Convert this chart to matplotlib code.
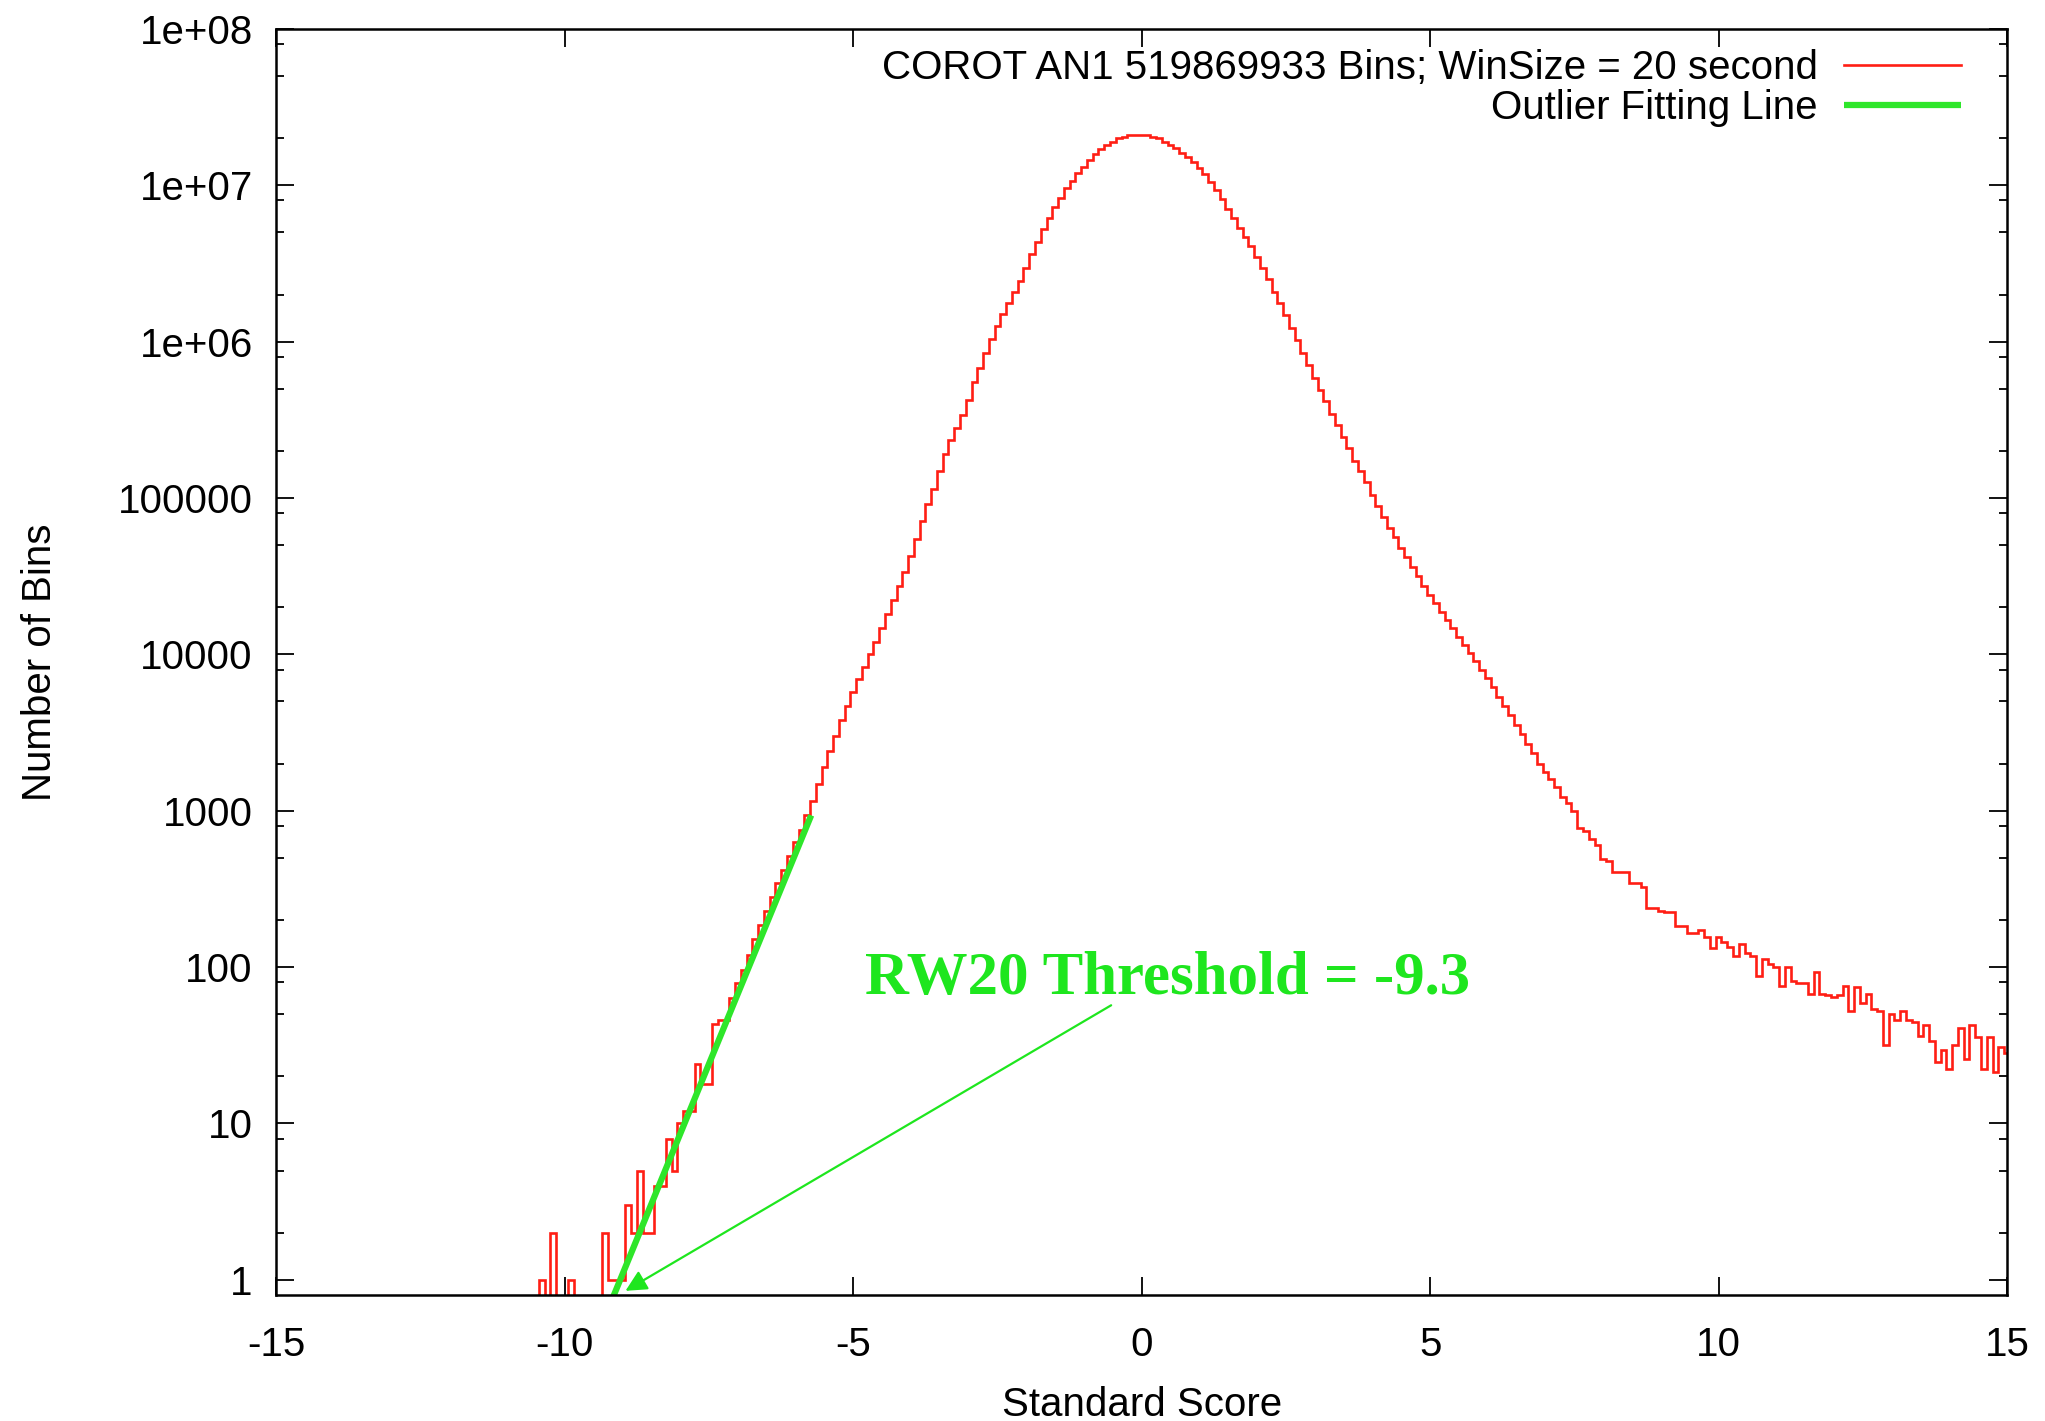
import numpy as np
import matplotlib.pyplot as plt
from matplotlib.ticker import FixedLocator, FixedFormatter, NullFormatter

# ##### DATA ######

bin_width = 0.1
first_bin = -10.6

# sparse left tail, raw counts per bin (-10.6 ... -7.4)
left_tail_counts = [0, 0, 1, 0, 2, 0, 0, 1, 0, 0, 0, 0, 0, 2, 1, 1, 1,
                    3, 2, 5, 2, 2, 4, 4, 8, 5, 10, 12, 12, 24, 18, 18, 43]

# log10(count) per bin, -7.3 ... 15.0
log_counts = [
    # -7.3 .. -5.7
    1.66, 1.66, 1.80, 1.90, 1.98, 2.08, 2.18, 2.27, 2.36, 2.45, 2.54, 2.62,
    2.71, 2.80, 2.88, 2.97, 3.06,
    # -5.6 .. 0.0
    3.17, 3.28, 3.38, 3.48, 3.58, 3.67, 3.76, 3.84, 3.92, 4.00, 4.08, 4.17,
    4.26, 4.35, 4.44, 4.53, 4.63, 4.74, 4.85, 4.96, 5.06, 5.17, 5.28, 5.37,
    5.45, 5.53, 5.63, 5.74, 5.83, 5.93, 6.02, 6.10, 6.18, 6.25, 6.32, 6.39,
    6.47, 6.56, 6.64, 6.72, 6.79, 6.86, 6.92, 6.98, 7.03, 7.08, 7.12, 7.16,
    7.20, 7.23, 7.26, 7.28, 7.30, 7.31, 7.32, 7.32, 7.32,
    # 0.1 .. 7.2
    7.32, 7.31, 7.30, 7.28, 7.26, 7.24, 7.21, 7.18, 7.15, 7.11, 7.07, 7.02,
    6.97, 6.91, 6.85, 6.79, 6.73, 6.67, 6.61, 6.54, 6.47, 6.40, 6.32, 6.25,
    6.17, 6.09, 6.01, 5.93, 5.85, 5.77, 5.69, 5.62, 5.54, 5.47, 5.39, 5.32,
    5.24, 5.17, 5.10, 5.02, 4.95, 4.88, 4.81, 4.75, 4.68, 4.62, 4.56, 4.50,
    4.44, 4.38, 4.33, 4.27, 4.22, 4.17, 4.11, 4.06, 4.01, 3.96, 3.90, 3.85,
    3.79, 3.73, 3.67, 3.61, 3.55, 3.49, 3.43, 3.37, 3.30, 3.25, 3.20, 3.15,
    # 7.3 .. 15.0
    3.09, 3.05, 3.00, 2.89, 2.87, 2.82, 2.78, 2.69, 2.68, 2.61, 2.61, 2.61,
    2.54, 2.54, 2.51, 2.38, 2.38, 2.36, 2.35, 2.35, 2.26, 2.26, 2.22, 2.22,
    2.24, 2.19, 2.12, 2.19, 2.16, 2.13, 2.07, 2.15, 2.09, 2.07, 1.94, 2.05,
    2.02, 2.00, 1.88, 2.00, 1.91, 1.90, 1.90, 1.83, 1.97, 1.83, 1.82, 1.81,
    1.82, 1.88, 1.72, 1.87, 1.77, 1.83, 1.73, 1.72, 1.50, 1.70, 1.66, 1.72,
    1.66, 1.65, 1.56, 1.63, 1.53, 1.39, 1.47, 1.35, 1.50, 1.61, 1.41, 1.63,
    1.55, 1.35, 1.55, 1.33, 1.49, 1.45,
]

# outlier fitting line end points
fit_x = [-9.25, -5.73]
fit_y = [0.65, 935]

arrow_from = (-0.53, 57)
arrow_to = (-8.95, 0.85)
note_pos = (-4.80, 67.6)

x_ticks = [-15, -10, -5, 0, 5, 10, 15]
y_ticks = [1, 10, 100, 1000, 10000, 100000, 1e6, 1e7, 1e8]
y_tick_labels = ['1', '10', '100', '1000', '10000', '100000', '1e+06', '1e+07', '1e+08']

######################

red = '#ff1e14'
green = '#2ee62a'
note_green = '#1ee61e'

plt.rcParams['font.family'] = ['Liberation Sans', 'DejaVu Sans']
plt.rcParams['font.size'] = 29
plt.rcParams['axes.unicode_minus'] = False

counts = np.concatenate([np.array(left_tail_counts, dtype=float), 10 ** np.array(log_counts)])
edges = first_bin - bin_width / 2 + bin_width * np.arange(len(counts) + 1)

fig = plt.figure(figsize=(20.45, 14.21), dpi=100)
ax = fig.add_axes([0.1352, 0.0887, 0.9814 - 0.1352, 0.9796 - 0.0887])

ax.set_yscale('log', nonpositive='clip')
ax.stairs(counts, edges, baseline=None, color=red, lw=1.9,
          label='COROT AN1 519869933 Bins; WinSize = 20 second')
ax.plot(fit_x, fit_y, color=green, lw=4.5, solid_capstyle='butt', label='Outlier Fitting Line')

ax.set_xlim(-15, 15)
ax.set_ylim(0.8, 1e8)

# threshold annotation
ax.annotate('', xy=arrow_to, xytext=arrow_from,
            arrowprops=dict(arrowstyle='-|>', color=note_green, lw=1.6, mutation_scale=32,
                            shrinkA=0, shrinkB=0))
ax.text(note_pos[0], note_pos[1], 'RW20 Threshold = -9.3', color=note_green,
        fontsize=43.8, fontweight='bold', family=['Liberation Serif', 'DejaVu Serif'],
        ha='left', va='baseline')

# ticks gnuplot style: inward, mirrored
ax.xaxis.set_major_locator(FixedLocator(x_ticks))
ax.yaxis.set_major_locator(FixedLocator(y_ticks))
ax.yaxis.set_major_formatter(FixedFormatter(y_tick_labels))
minor_y = [m * 10 ** k for k in range(8) for m in (2, 5, 8)]
ax.yaxis.set_minor_locator(FixedLocator(minor_y))
ax.yaxis.set_minor_formatter(NullFormatter())
ax.tick_params(which='both', direction='in', top=True, right=True, width=1.3)
ax.tick_params(which='major', length=13)
ax.tick_params(which='minor', length=6)
ax.tick_params(axis='y', pad=17)
ax.tick_params(axis='x', pad=22)
for s in ax.spines.values():
    s.set_linewidth(1.8)

ax.set_xlabel('Standard Score')
ax.set_ylabel('Number of Bins')
ax.xaxis.set_label_coords(0.5, -0.072)
ax.yaxis.set_label_coords(-0.1257, 0.5)

ax.legend(loc='upper right', bbox_to_anchor=(0.9734, 0.9842), frameon=False,
          markerfirst=False, fontsize=29, handlelength=2.9, handletextpad=0.65,
          labelspacing=0.05, borderaxespad=0, borderpad=0)

plt.savefig('out.png', dpi=100)
plt.close()
